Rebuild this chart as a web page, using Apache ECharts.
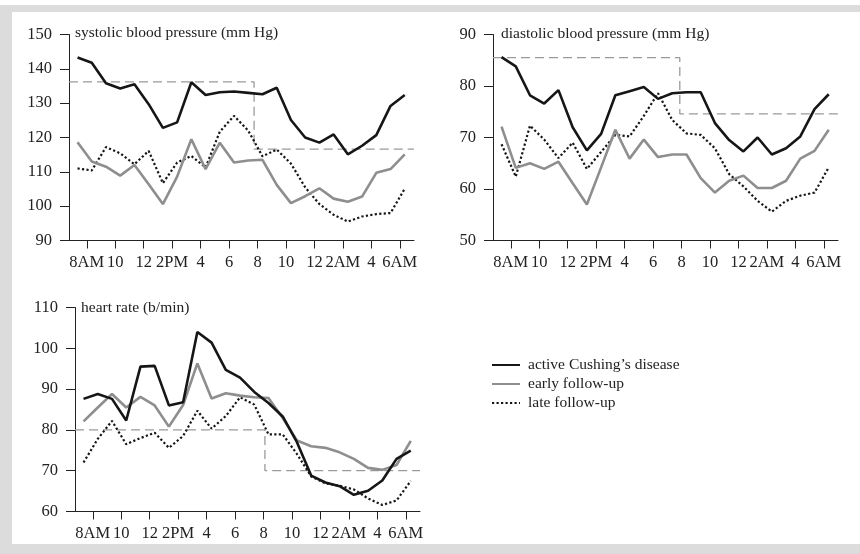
<!DOCTYPE html>
<html><head><meta charset="utf-8">
<script src="https://cdn.jsdelivr.net/npm/echarts@6/dist/echarts.min.js"></script>
<style>html,body{margin:0;padding:0;background:#fff}#c{width:860px;height:554px}</style>
</head><body><div id="c"></div>
<script>
// ---------- data ----------
const seriesNames = ['active Cushing\u2019s disease', 'early follow-up', 'late follow-up'];
const hours = [7.35, 8.35, 9.35, 10.35, 11.35, 12.35, 13.35, 14.35, 15.35, 16.35, 17.35, 18.35,
               19.35, 20.35, 21.35, 22.35, 23.35, 24.35, 25.35, 26.35, 27.35, 28.35, 29.35, 30.35];
const tickHours = [8, 10, 12, 14, 16, 18, 20, 22, 24, 26, 28, 30];
const tickLabels = ['8AM', '10', '12', '2PM', '4', '6', '8', '10', '12', '2AM', '4', '6AM'];

const sysActive = [143.3,141.8,135.8,134.3,135.5,129.7,122.8,124.4,136.1,132.4,133.2,133.4,133.0,132.6,134.5,125.1,120.0,118.5,120.9,115.1,117.6,120.7,129.2,132.4];
const sysEarly  = [118.6,113.0,111.5,108.9,112.0,106.4,100.6,108.6,119.5,110.8,118.5,112.7,113.3,113.5,106.2,100.9,102.9,105.2,102.2,101.3,102.8,109.7,110.8,115.1];
const sysLate   = [111.0,110.4,117.2,115.4,112.2,116.1,106.7,112.7,114.6,111.3,121.7,126.3,122.0,114.5,116.5,112.4,105.5,100.6,97.5,95.5,97.0,97.7,98.0,105.1];
const sysRef = [136.2, 116.6];
const sysRefSwitch = 19.76;

const diaActive = [85.6,83.8,78.2,76.6,79.2,72.0,67.5,70.7,78.2,79.0,79.8,77.5,78.6,78.8,78.8,72.8,69.5,67.3,70.0,66.7,67.9,70.2,75.5,78.4];
const diaEarly  = [72.1,64.1,65.0,63.9,65.3,61.1,57.0,64.2,71.5,65.9,69.6,66.2,66.7,66.7,62.1,59.3,61.6,62.6,60.2,60.2,61.6,65.9,67.4,71.5];
const diaLate   = [68.7,62.4,72.3,69.6,66.0,69.0,63.9,67.2,70.5,70.2,74.2,78.6,73.4,70.8,70.5,67.9,62.9,60.5,57.7,55.6,57.7,58.7,59.3,64.2];
const diaRef = [85.5, 74.6];
const diaRefSwitch = 19.88;

const hrActive = [87.6,88.8,87.6,82.3,95.5,95.7,86.0,86.8,104.0,101.4,94.7,92.8,89.3,86.6,83.3,77.0,68.8,67.1,66.2,64.1,65.1,67.6,72.9,74.9];
const hrEarly  = [82.1,85.5,88.8,85.5,88.1,86.0,80.8,86.1,96.3,87.7,89.0,88.4,88.0,87.8,82.9,77.4,76.0,75.6,74.5,72.9,70.7,70.2,71.4,77.3];
const hrLate   = [72.0,77.8,82.2,76.5,78.0,79.3,75.6,78.5,84.7,80.3,83.4,88.0,86.2,78.9,78.9,74.1,68.6,66.9,66.3,65.4,63.2,61.6,62.7,67.5];
const hrRef = [80, 70];
const hrRefSwitch = 20.1;

const panelTitles = ['systolic blood pressure (mm Hg)', 'diastolic blood pressure (mm Hg)', 'heart rate (b/min)'];
const yRanges = [[90, 150], [50, 90], [60, 110]];

// ---------- chart ----------
const FONT = '"Liberation Serif", "Times New Roman", serif';
const TXT = '#222';
const X_MIN = 6.75, X_MAX = 31;

const grids = [
  {left: 69, top: 34.5, width: 345, height: 206},
  {left: 493, top: 34.5, width: 345, height: 206},
  {left: 75, top: 307.5, width: 345, height: 204}
];
const titlePos = [{left: 75, top: 25}, {left: 501, top: 26}, {left: 81, top: 299.5}];

const panels = [
  {vals: [sysActive, sysEarly, sysLate], ref: sysRef, sw: sysRefSwitch},
  {vals: [diaActive, diaEarly, diaLate], ref: diaRef, sw: diaRefSwitch},
  {vals: [hrActive, hrEarly, hrLate], ref: hrRef, sw: hrRefSwitch}
];

const lineStyles = [
  {color: '#161616', width: 2.6, type: 'solid'},
  {color: '#8e8e8e', width: 2.6, type: 'solid'},
  {color: '#161616', width: 2.2, type: [2.2, 2.3]}
];

const xAxes = [], yAxes = [], series = [], titles = [];
panels.forEach((p, gi) => {
  xAxes.push({
    type: 'value', gridIndex: gi, min: X_MIN, max: X_MAX,
    axisLine: {show: true, onZero: false, lineStyle: {color: TXT, width: 1}},
    axisTick: {show: true, customValues: tickHours, length: 8, lineStyle: {color: TXT, width: 1}},
    axisLabel: {customValues: tickHours, formatter: v => tickLabels[tickHours.indexOf(v)],
                margin: 14, fontSize: 16.5, fontFamily: FONT, color: TXT},
    splitLine: {show: false}
  });
  yAxes.push({
    type: 'value', gridIndex: gi, min: yRanges[gi][0], max: yRanges[gi][1], interval: 10,
    axisLine: {show: true, lineStyle: {color: TXT, width: 1}},
    axisTick: {show: true, length: 9, lineStyle: {color: TXT, width: 1}},
    axisLabel: {margin: 17, fontSize: 16.5, fontFamily: FONT, color: TXT},
    splitLine: {show: false}
  });
  titles.push({
    text: panelTitles[gi], left: titlePos[gi].left, top: titlePos[gi].top, padding: 0,
    textStyle: {fontSize: 15.5, fontWeight: 'normal', fontFamily: FONT, color: TXT}
  });
  series.push({
    name: 'ref' + gi, type: 'line', xAxisIndex: gi, yAxisIndex: gi, symbol: 'none', silent: true,
    data: [[X_MIN, p.ref[0]], [p.sw, p.ref[0]], [p.sw, p.ref[1]], [X_MAX, p.ref[1]]],
    lineStyle: {color: '#9a9a9a', width: 1.3, type: [9, 5]}, z: 1
  });
  [2, 1, 0].forEach(si => {
    series.push({
      name: seriesNames[si], type: 'line', xAxisIndex: gi, yAxisIndex: gi,
      symbol: 'none', showSymbol: false,
      data: p.vals[si].map((v, i) => [hours[i], v]),
      lineStyle: lineStyles[si], itemStyle: {color: lineStyles[si].color},
      z: 2 + (2 - si)
    });
  });
});

const chart = echarts.init(document.getElementById('c'), null, {renderer: 'canvas'});
chart.setOption({
  animation: false,
  backgroundColor: '#ffffff',
  title: titles,
  grid: grids,
  xAxis: xAxes,
  yAxis: yAxes,
  legend: {
    data: seriesNames, orient: 'vertical', left: 491, top: 357, itemGap: 3,
    itemWidth: 28, itemHeight: 14, padding: 0, selectedMode: false,
    itemStyle: {opacity: 0, borderWidth: 0},
    textStyle: {fontSize: 15.5, fontFamily: FONT, color: TXT, padding: [0, 0, 0, 3]}
  },
  graphic: [
    {type: 'rect', shape: {x: 0, y: 5, width: 860, height: 7}, style: {fill: '#dcdcdc'}, silent: true, z: -10},
    {type: 'rect', shape: {x: 0, y: 5, width: 12, height: 549}, style: {fill: '#dcdcdc'}, silent: true, z: -10},
    {type: 'rect', shape: {x: 0, y: 544, width: 860, height: 10}, style: {fill: '#dcdcdc'}, silent: true, z: -10}
  ],
  series: series
});
</script>
</body></html>
